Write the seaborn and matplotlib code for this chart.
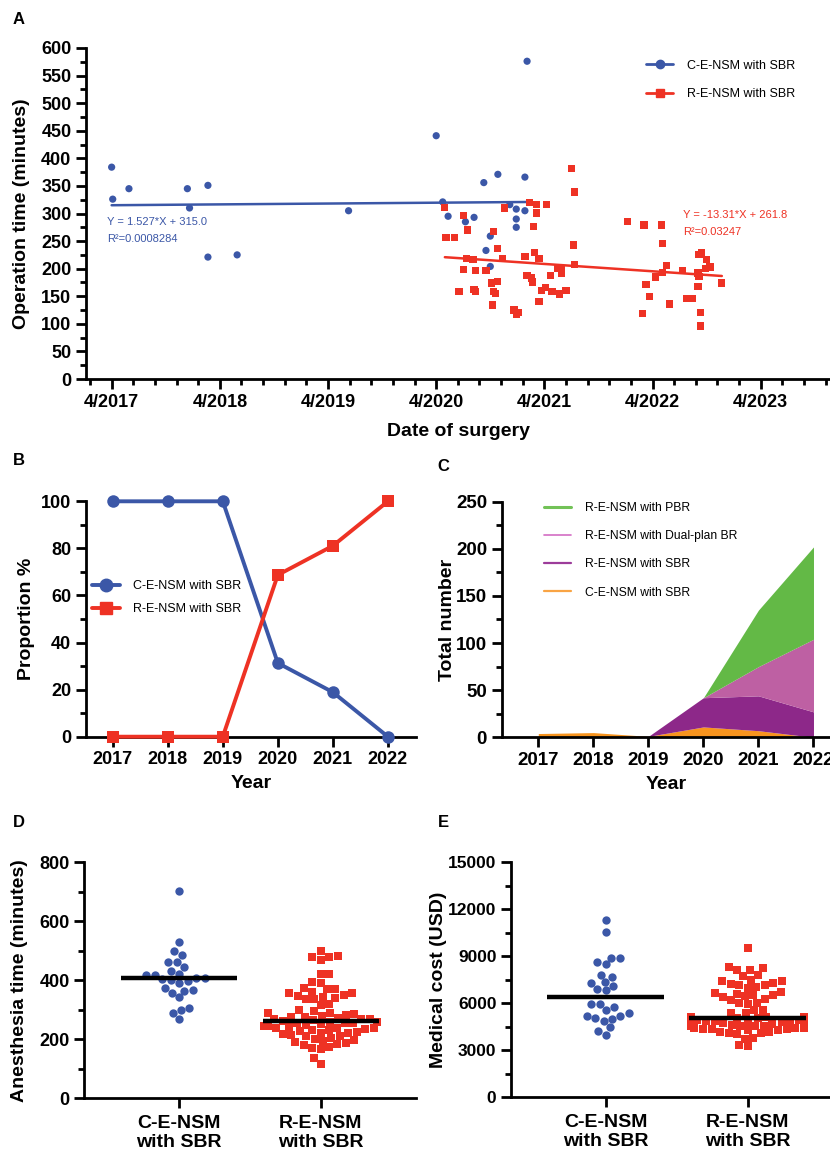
import numpy as np
import pandas as pd
import matplotlib
matplotlib.use('Agg')
import matplotlib.pyplot as plt
from matplotlib.lines import Line2D
from matplotlib.ticker import MultipleLocator
import seaborn as sns

# ---- colours ----
BLUE = '#3B57A7'
RED = '#EE3224'
C_ORANGE = '#F7941E'
C_PURPLE = '#8D2889'
C_PINK = '#BE60A3'
C_GREEN = '#63B946'

GROUPS = ['C-E-NSM with SBR', 'R-E-NSM with SBR']
GROUP_TICKS = ['C-E-NSM\nwith SBR', 'R-E-NSM\nwith SBR']

# ---- A: operation time vs date (x = years since 4/2017) ----
A_TICK_POS = [0, 1, 2, 3, 4, 5, 6]
A_TICK_LABELS = ['4/2017', '4/2018', '4/2019', '4/2020', '4/2021', '4/2022', '4/2023']

A_C_DATE = [0.00, 0.01, 0.16, 0.70, 0.72, 0.89, 0.89, 1.16, 2.19, 3.00, 3.84, 3.06, 3.11,
            3.27, 3.35, 3.44, 3.57, 3.50, 3.46, 3.50, 3.68, 3.74, 3.82, 3.74, 3.74, 3.82]
A_C_TIME = [384, 326, 345, 345, 310, 351, 221, 225, 305, 441, 576, 321, 295,
            285, 293, 356, 371, 259, 233, 204, 316, 308, 305, 290, 275, 366]

A_R_DATE = [3.08, 3.25, 3.29, 3.09, 3.17, 3.53, 3.63, 3.86, 3.93, 4.02, 3.93, 3.90, 4.25,
            4.28, 4.27, 4.28, 3.57, 3.28, 3.34, 3.61, 3.82, 3.91, 3.95, 3.25, 3.36, 3.46,
            3.21, 3.35, 3.36, 3.51, 3.57, 3.53, 3.55, 3.52, 3.72, 3.76, 3.74, 3.84, 3.88,
            3.89, 3.97, 4.01, 4.07, 4.06, 4.12, 4.16, 4.16, 4.14, 4.20, 3.95, 4.77, 4.92,
            5.08, 5.09, 5.13, 5.09, 5.03, 4.94, 4.97, 4.91, 5.16, 5.28, 5.43, 5.45, 5.50,
            5.49, 5.53, 5.42, 5.43, 5.42, 5.31, 5.37, 5.44, 5.44, 5.64]
A_R_TIME = [311, 297, 270, 256, 256, 268, 310, 320, 316, 316, 301, 276, 381,
            339, 243, 208, 236, 218, 216, 218, 222, 230, 218, 198, 196, 196,
            158, 162, 158, 174, 177, 159, 155, 134, 125, 121, 117, 188, 183,
            176, 160, 166, 158, 188, 201, 192, 199, 154, 160, 140, 285, 279,
            279, 245, 206, 193, 185, 172, 149, 119, 136, 197, 225, 230, 216,
            201, 203, 192, 186, 168, 146, 146, 120, 96, 174]

A_C_FIT = (1.527, 315.0)
A_R_FIT = (-13.31, 261.8)
A_C_EQ = ['Y = 1.527*X + 315.0', 'R²=0.0008284']
A_R_EQ = ['Y = -13.31*X + 261.8', 'R²=0.03247']

# ---- B: proportion by year ----
YEARS = [2017, 2018, 2019, 2020, 2021, 2022]
B_C_PCT = [100, 100, 100, 31.3, 18.9, 0]
B_R_PCT = [0, 0, 0, 68.7, 81.1, 100]

# ---- C: totals by year (stacked) ----
C_LABELS = ['C-E-NSM with SBR', 'R-E-NSM with SBR', 'R-E-NSM with Dual-plan BR', 'R-E-NSM with PBR']
C_CE_SBR = [4, 5, 1, 11, 7, 0]
C_RE_SBR = [0, 0, 0, 31, 37, 27]
C_RE_DUAL = [0, 0, 0, 0, 31, 77]
C_RE_PBR = [0, 0, 0, 0, 60, 98]

# ---- D: anesthesia time ----
D_C = [703, 529, 499, 487, 463, 463, 445, 433, 409, 421, 417, 417, 409, 398, 391, 403,
       400, 357, 367, 373, 365, 342, 300, 289, 306, 270]
D_R = [500, 482, 480, 478, 470, 420, 422, 395, 390, 375, 372, 370, 362, 358, 356,
       350, 348, 345, 340, 338, 335, 320, 315, 298, 295, 290, 288, 285, 282, 280,
       276, 274, 272, 270, 268, 268, 266, 262, 260, 258, 256, 255, 254, 252,
       248, 246, 245, 242, 240, 240, 238, 235, 232, 230, 228, 225, 222,
       220, 218, 215, 212, 210, 205, 202, 198, 195, 190, 188, 185, 182,
       175, 172, 168, 135, 115]
D_LINE = [407, 261]

# ---- E: medical cost ----
E_C = [11300, 10550, 8650, 8900, 8500, 8900, 7830, 7680, 7280, 7360, 7120, 6830, 6910,
       5980, 5980, 5750, 5570, 5360, 5040, 5170, 5020, 5170, 4850, 4470, 4250, 4000]
E_R = [9500, 8300, 8250, 8150, 8100, 7800, 7750, 7500, 7450, 7400, 7300, 7250, 7200, 7150,
       7050, 7000, 6700, 6650, 6600, 6550, 6500, 6450, 6400, 6250, 6200, 6050, 6000, 5950,
       5600, 5550, 5400, 5350, 5150, 5120, 5100, 5100, 5080, 5060, 5050, 5030,
       4950, 4930, 4900, 4880, 4850, 4830, 4800, 4780, 4760,
       4700, 4680, 4650, 4630, 4600, 4580, 4560, 4550, 4520,
       4450, 4420, 4400, 4380, 4350, 4330, 4300, 4280,
       4200, 4150, 4100, 4080, 4050, 3800, 3750, 3350, 3250]
E_LINE = [6420, 5060]

sns.set_style('ticks')
plt.rcParams['font.family'] = ['Liberation Sans', 'DejaVu Sans']
plt.rcParams['font.weight'] = 'bold'
plt.rcParams['axes.edgecolor'] = 'black'
plt.rcParams['xtick.color'] = 'black'
plt.rcParams['ytick.color'] = 'black'
plt.rcParams['text.color'] = 'black'
plt.rcParams['axes.labelcolor'] = 'black'

W, H = 830, 1166
fig = plt.figure(figsize=(W / 100, H / 100), dpi=100)


def axes_px(left, top, right, bottom):
    return fig.add_axes([left / W, 1 - bottom / H, (right - left) / W, (bottom - top) / H])


def style(ax, labelsize=13):
    sns.despine(ax=ax)
    ax.spines['left'].set_linewidth(2)
    ax.spines['bottom'].set_linewidth(2)
    ax.tick_params(which='major', length=7.5, width=2, labelsize=labelsize, pad=3)
    ax.tick_params(which='minor', length=4, width=2)


def legend(ax, handles, labels, anchor, size, spacing, hl, pad):
    ax.legend(handles, labels, loc='upper left', bbox_to_anchor=anchor, frameon=False,
              borderpad=0, borderaxespad=0, labelspacing=spacing, handlelength=hl,
              handletextpad=pad, prop={'size': size, 'weight': 'normal'})


# ================= A =================
ax = axes_px(86, 48, 830, 379)
df_a = pd.DataFrame({
    'date': A_C_DATE + A_R_DATE,
    'time': A_C_TIME + A_R_TIME,
    'group': [GROUPS[0]] * len(A_C_DATE) + [GROUPS[1]] * len(A_R_DATE),
})
sns.scatterplot(data=df_a, x='date', y='time', hue='group', style='group',
                markers={GROUPS[0]: 'o', GROUPS[1]: 's'},
                palette={GROUPS[0]: BLUE, GROUPS[1]: RED},
                s=27, linewidth=0, legend=False, ax=ax, zorder=3)
for dates, fit, col in [(A_C_DATE, A_C_FIT, BLUE), (A_R_DATE, A_R_FIT, RED)]:
    xs = np.array([min(dates), max(dates)])
    ax.plot(xs, fit[0] * xs + fit[1], color=col, lw=1.8, zorder=2)
ax.set_xlim(-0.237, 6.64)
ax.set_ylim(0, 600)
ax.set_xticks(A_TICK_POS)
ax.set_xticklabels(A_TICK_LABELS)
ax.xaxis.set_minor_locator(MultipleLocator(0.2))
ax.yaxis.set_major_locator(MultipleLocator(50))
ax.yaxis.set_minor_locator(MultipleLocator(25))
style(ax)
ax.set_xlabel('Date of surgery', fontsize=14, fontweight='bold')
ax.set_ylabel('Operation time (minutes)', fontsize=14, fontweight='bold')
ax.xaxis.set_label_coords(0.5, -0.133)
ax.yaxis.set_label_coords(-0.0753, 0.5)
ax.text(0.0282, 0.4752, A_C_EQ[0], transform=ax.transAxes, color=BLUE, fontsize=8,
        fontweight='normal', va='center')
ax.text(0.0282, 0.4239, A_C_EQ[1], transform=ax.transAxes, color=BLUE, fontsize=8,
        fontweight='normal', va='center')
ax.text(0.802, 0.4955, A_R_EQ[0], transform=ax.transAxes, color=RED, fontsize=8,
        fontweight='normal', va='center')
ax.text(0.802, 0.445, A_R_EQ[1], transform=ax.transAxes, color=RED, fontsize=8,
        fontweight='normal', va='center')
hA = [Line2D([], [], color=BLUE, lw=2, marker='o', ms=6),
      Line2D([], [], color=RED, lw=2, marker='s', ms=6)]
legend(ax, hA, GROUPS, (0.7527, 0.965), 9, 1.35, 2.16, 1.1)

# ================= B =================
ax = axes_px(85.7, 501.3, 416, 736.7)
sns.lineplot(x=YEARS, y=B_C_PCT, color=BLUE, lw=2.8, marker='o', ms=9,
             markeredgewidth=0, clip_on=False, ax=ax, zorder=3)
sns.lineplot(x=YEARS, y=B_R_PCT, color=RED, lw=2.8, marker='s', ms=8,
             markeredgewidth=0, clip_on=False, ax=ax, zorder=3)
ax.set_xlim(2016.51, 2022.51)
ax.set_ylim(0, 100)
ax.set_xticks(YEARS)
ax.yaxis.set_major_locator(MultipleLocator(20))
ax.yaxis.set_minor_locator(MultipleLocator(10))
style(ax)
ax.set_xlabel('Year', fontsize=14, fontweight='bold')
ax.set_ylabel('Proportion %', fontsize=14, fontweight='bold')
ax.xaxis.set_label_coords(0.5, -0.161)
ax.yaxis.set_label_coords(-0.1535, 0.5)
hB = [Line2D([], [], color=BLUE, lw=2.8, marker='o', ms=9),
      Line2D([], [], color=RED, lw=2.8, marker='s', ms=8)]
legend(ax, hB, GROUPS, (0.019, 0.664), 9, 0.88, 2.24, 1.04)

# ================= C =================
ax = axes_px(501.7, 501.7, 830, 737.3)
ax.stackplot(YEARS, C_CE_SBR, C_RE_SBR, C_RE_DUAL, C_RE_PBR,
             colors=[C_ORANGE, C_PURPLE, C_PINK, C_GREEN], lw=0)
ax.set_xlim(2016.335, 2022.30)
ax.set_ylim(0, 250)
ax.set_xticks(YEARS)
ax.yaxis.set_major_locator(MultipleLocator(50))
ax.yaxis.set_minor_locator(MultipleLocator(25))
style(ax, labelsize=13.5)
ax.set_xlabel('Year', fontsize=14, fontweight='bold')
ax.set_ylabel('Total number', fontsize=14, fontweight='bold')
ax.xaxis.set_label_coords(0.5, -0.166)
ax.yaxis.set_label_coords(-0.140, 0.5)
hC = [Line2D([], [], color='#72C257', lw=2.2),
      Line2D([], [], color='#D36DC4', lw=1.2),
      Line2D([], [], color='#9C3C9A', lw=1.6),
      Line2D([], [], color='#F9A444', lw=1.6)]
legend(ax, hC, C_LABELS[::-1], (0.129, 0.9975), 8.7, 1.33, 2.23, 1.2)

# ================= D / E =================
def column_scatter(box, c_vals, r_vals, lines, ylim, major, minor, ylabel, ylab_x, xlim, labelsize):
    ax = axes_px(*box)
    df = pd.DataFrame({'group': [GROUPS[0]] * len(c_vals) + [GROUPS[1]] * len(r_vals),
                       'value': c_vals + r_vals})
    sns.swarmplot(data=df[df.group == GROUPS[0]], x='group', y='value', order=GROUPS,
                  color=BLUE, marker='o', size=6, linewidth=0, ax=ax)
    sns.swarmplot(data=df[df.group == GROUPS[1]], x='group', y='value', order=GROUPS,
                  color=RED, marker='s', size=6, linewidth=0, ax=ax)
    for i, v in enumerate(lines):
        ax.hlines(v, i - 0.41, i + 0.41, color='black', lw=3.2, zorder=5)
    ax.set_xlim(*xlim)
    ax.set_ylim(*ylim)
    ax.yaxis.set_major_locator(MultipleLocator(major))
    ax.yaxis.set_minor_locator(MultipleLocator(minor))
    ax.set_xticks([0, 1])
    ax.set_xticklabels(GROUP_TICKS, fontsize=14, linespacing=1.15)
    style(ax, labelsize=labelsize)
    ax.tick_params(axis='x', labelsize=14, pad=5, length=7)
    ax.set_xlabel('')
    ax.set_ylabel(ylabel, fontsize=14, fontweight='bold')
    ax.yaxis.set_label_coords(ylab_x, 0.5)
    return ax


column_scatter((84.3, 862.3, 416, 1098.3), D_C, D_R, D_LINE, (0, 800), 200, 100,
               'Anesthesia time (minutes)', -0.1688, (-0.672, 1.675), 13)
column_scatter((511, 862.3, 830, 1097.3), E_C, E_R, E_LINE, (0, 15000), 3000, 1500,
               'Medical cost (USD)', -0.2016, (-0.667, 1.58), 12.5)

# ---- panel letters ----
for letter, x, y in [('A', 13, 12), ('B', 13, 453), ('C', 437, 459), ('D', 13, 815), ('E', 438, 815)]:
    fig.text(x / W, 1 - y / H, letter, fontsize=12, fontweight='bold', va='top', ha='left')

fig.savefig('out.png', dpi=100)
